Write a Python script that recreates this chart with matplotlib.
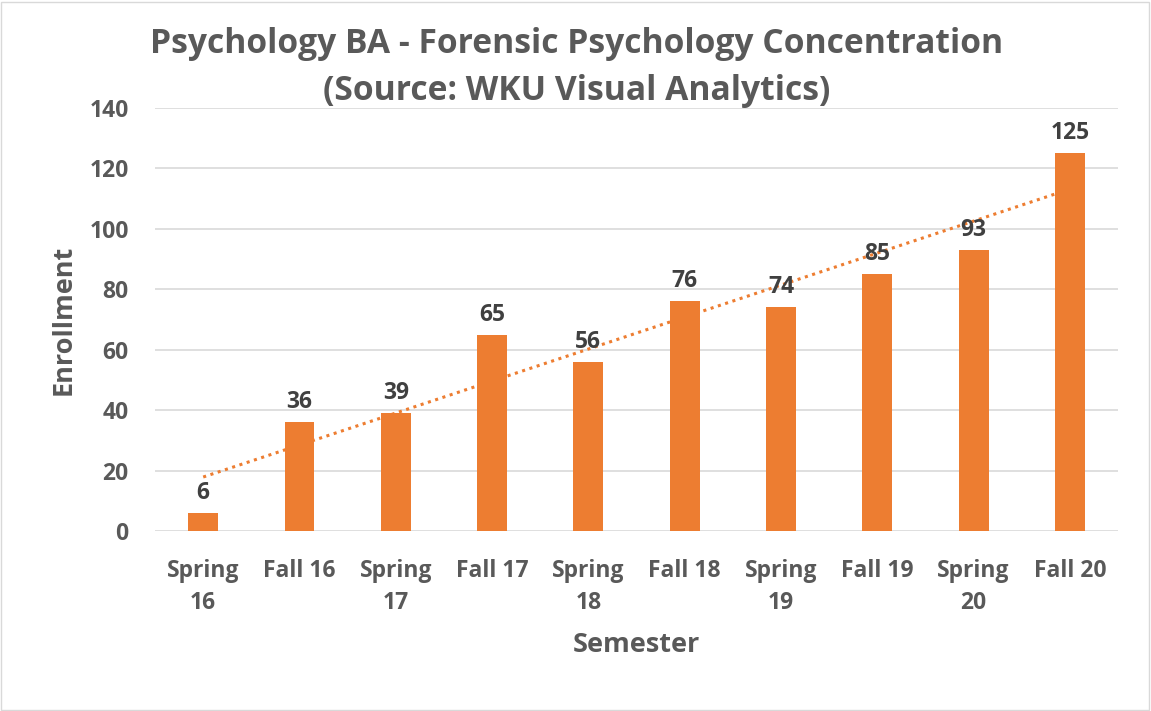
import matplotlib
matplotlib.use("Agg")
import matplotlib.pyplot as plt
import numpy as np
from matplotlib.patches import Rectangle

categories = ["Spring\n16", "Fall 16", "Spring\n17", "Fall 17", "Spring\n18",
              "Fall 18", "Spring\n19", "Fall 19", "Spring\n20", "Fall 20"]
enrollment = [6, 36, 39, 65, 56, 76, 74, 85, 93, 125]
yticks = [0, 20, 40, 60, 80, 100, 120, 140]
title_lines = ["Psychology BA - Forensic Psychology Concentration",
               "(Source: WKU Visual Analytics)"]

FONT = "Open Sans"
BAR = "#ED7D31"
TXT = "#595959"

fig = plt.figure(figsize=(11.51, 7.11), dpi=100)
ax = fig.add_axes([0.1347, 0.2532, 0.8367, 0.595])

x = np.arange(len(categories))
ax.bar(x, enrollment, width=0.31, color=BAR, zorder=3)

# linear trendline
coef = np.polyfit(x, enrollment, 1)
ax.plot(x, np.polyval(coef, x), linestyle=(0, (1, 1.5)), color=BAR, linewidth=2.2, zorder=4)

for xi, v in zip(x, enrollment):
    ax.annotate(str(v), (xi, v), xytext=(0, 10), textcoords="offset points",
                ha="center", va="baseline", fontsize=16.5, fontweight="bold",
                color="#404040", family=FONT, zorder=5)

ax.set_xlim(-0.5, len(categories) - 0.5)
ax.set_ylim(0, 140)
ax.set_yticks(yticks)
ax.set_xticks(x)
ax.set_xticklabels(categories)
ax.yaxis.grid(True, color="#D9D9D9", linewidth=1.2, zorder=0)
ax.set_axisbelow(True)
for s in ax.spines.values():
    s.set_visible(False)
ax.tick_params(length=0)
ax.tick_params(axis="y", pad=19)
ax.tick_params(axis="x", pad=20)
for lab in ax.get_xticklabels() + ax.get_yticklabels():
    lab.set_fontsize(16.5)
    lab.set_fontweight("bold")
    lab.set_color(TXT)
    lab.set_family(FONT)
for lab in ax.get_xticklabels():
    lab.set_linespacing(1.45)

ax.set_xlabel("Semester", fontsize=19.5, fontweight="bold", color=TXT, family=FONT, va="baseline")
ax.xaxis.set_label_coords(0.5, -0.286)
ax.set_ylabel("Enrollment", fontsize=19.5, fontweight="bold", color=TXT, family=FONT, va="center")
ax.yaxis.set_label_coords(-0.095, 0.5)

fig.text(0.501, 1 - 53 / 711, title_lines[0], ha="center", va="baseline", fontsize=24.2,
         fontweight="bold", color=TXT, family=FONT)
fig.text(0.501, 1 - 100 / 711, title_lines[1], ha="center", va="baseline", fontsize=24.2,
         fontweight="bold", color=TXT, family=FONT)

fig.patches.append(Rectangle((0.001, 0.001), 0.997, 0.996, transform=fig.transFigure,
                             fill=False, edgecolor="#D9D9D9", linewidth=1))

fig.savefig("out.png", dpi=100)
